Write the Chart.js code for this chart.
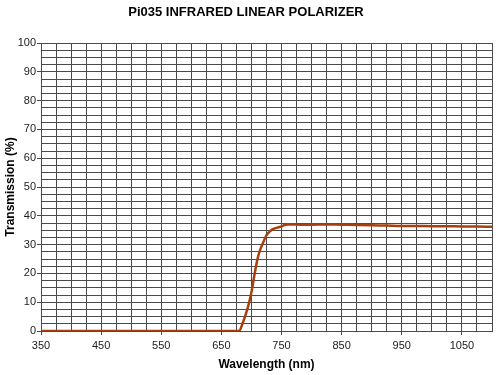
<!DOCTYPE html>
<html>
<head>
<meta charset="utf-8">
<script src="https://cdn.jsdelivr.net/npm/chart.js@4"></script>
<style>
  html, body { margin: 0; padding: 0; background: #fff; }
  #wrap { width: 500px; height: 375px; }
</style>
</head>
<body>
<div id="wrap"><canvas id="chart" width="500" height="375"></canvas></div>
<script>
// wavelength (nm) and transmission (%)
const wavelengths = [350, 400, 450, 500, 550, 600, 650, 675, 680, 685, 690, 695, 700, 705, 710, 715, 720, 725, 730, 735, 740, 745, 750, 755, 760, 770, 780, 800, 825, 850, 875, 900, 925, 950, 975, 1000, 1025, 1050, 1075, 1100];
const transmission = [0, 0, 0, 0, 0, 0, 0, 0, 0.1, 2.5, 5.5, 9, 13.5, 19.5, 25, 28.5, 31, 33.3, 34.5, 35.3, 35.7, 36, 36.3, 36.8, 37.0, 37.0, 36.9, 36.9, 37.0, 36.9, 36.8, 36.7, 36.6, 36.5, 36.5, 36.4, 36.4, 36.3, 36.3, 36.2];

// axis ticks: gridlines every 25 nm / every 2.5 %, labels only on these
const xLabels = [350, 450, 550, 650, 750, 850, 950, 1050];
const yLabels = [0, 10, 20, 30, 40, 50, 60, 70, 80, 90, 100];

const xMin = 350, xMax = 1100, xGridStep = 25;
const yMin = 0, yMax = 100, yGridPerLabel = 4;

const points = wavelengths.map((w, i) => ({ x: w, y: transmission[i] }));

const gridColor = '#4a4a4a';
const font = { family: '"Liberation Sans", Arial, sans-serif', size: 11 };

new Chart(document.getElementById('chart').getContext('2d'), {
  type: 'line',
  data: {
    datasets: [{
      data: points,
      borderColor: '#a8400e',
      borderWidth: 2.5,
      pointRadius: 0,
      tension: 0.3,
      cubicInterpolationMode: 'monotone',
      fill: false,
    }],
  },
  options: {
    responsive: false,
    animation: false,
    layout: { padding: { left: 0, right: 8, top: 0, bottom: 0 } },
    plugins: {
      legend: { display: false },
      tooltip: { enabled: false },
      title: {
        display: true,
        text: 'Pi035 INFRARED LINEAR POLARIZER',
        color: '#000',
        font: { family: '"Liberation Sans", Arial, sans-serif', size: 13, weight: 'bold', lineHeight: 1.2 },
        padding: { top: 5, bottom: 22.4 },
      },
    },
    scales: {
      x: {
        type: 'linear',
        min: xMin,
        max: xMax,
        afterBuildTicks: (scale) => {
          const ticks = [];
          for (let v = xMin; v <= xMax; v += xGridStep) ticks.push({ value: v });
          scale.ticks = ticks;
        },
        afterFit: (scale) => { scale.height = 44; },
        grid: {
          color: gridColor,
          lineWidth: 1,
          tickLength: 4,
          tickColor: (ctx) => xLabels.includes(ctx.tick && ctx.tick.value) ? gridColor : 'rgba(0,0,0,0)',
        },
        border: { color: gridColor },
        ticks: {
          autoSkip: false,
          maxRotation: 0,
          padding: 4,
          color: '#222',
          font: font,
          callback: (v) => xLabels.includes(v) ? String(v) : '',
        },
        title: {
          display: true,
          text: 'Wavelength (nm)',
          color: '#000',
          font: { family: '"Liberation Sans", Arial, sans-serif', size: 12, weight: 'bold', lineHeight: 1.2 },
          padding: { top: 0, bottom: 3 },
        },
      },
      y: {
        type: 'linear',
        min: yMin,
        max: yMax,
        afterBuildTicks: (scale) => {
          const ticks = [];
          const n = (yLabels.length - 1) * yGridPerLabel;
          for (let i = 0; i <= n; i++) ticks.push({ value: yMin + (yMax - yMin) * i / n, idx: i });
          scale.ticks = ticks;
        },
        afterFit: (scale) => { scale.width = 41; },
        grid: {
          color: gridColor,
          lineWidth: 1,
          tickLength: 4,
          tickColor: (ctx) => (ctx.tick && ctx.tick.idx % yGridPerLabel === 0) ? gridColor : 'rgba(0,0,0,0)',
        },
        border: { color: gridColor },
        ticks: {
          autoSkip: false,
          padding: 1,
          color: '#222',
          font: font,
          callback: function (v, i, ticks) {
            return ticks[i].idx % yGridPerLabel === 0 ? String(yLabels[ticks[i].idx / yGridPerLabel]) : '';
          },
        },
        title: {
          display: true,
          text: 'Transmission (%)',
          color: '#000',
          font: { family: '"Liberation Sans", Arial, sans-serif', size: 12, weight: 'bold', lineHeight: 1.2 },
          padding: { top: 3, bottom: 0 },
        },
      },
    },
  },
});
</script>
</body>
</html>
